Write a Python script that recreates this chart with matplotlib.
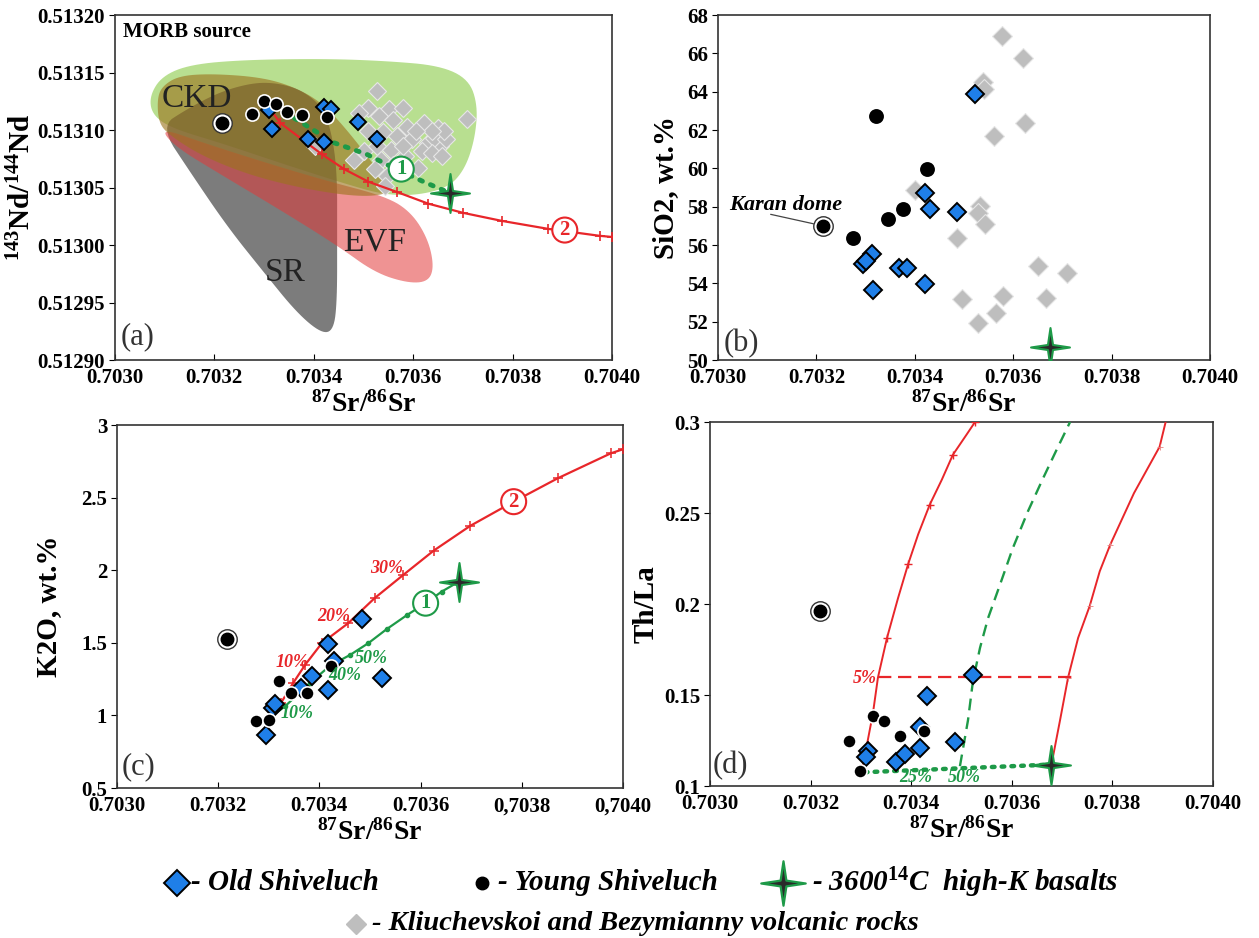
import matplotlib
matplotlib.use("Agg")
import matplotlib.pyplot as plt
from matplotlib.path import Path
from matplotlib.patches import Polygon
import numpy as np

plt.rcParams['font.family'] = ['Liberation Serif', 'DejaVu Serif']
plt.rcParams['font.weight'] = 'bold'
plt.rcParams['axes.labelweight'] = 'bold'
plt.rcParams['mathtext.fontset'] = 'custom'
plt.rcParams['mathtext.rm'] = 'Liberation Serif:bold'
plt.rcParams['mathtext.it'] = 'Liberation Serif:italic:bold'
plt.rcParams['mathtext.bf'] = 'Liberation Serif:bold'

BLUE = '#1F7FE8'
GRAYD = '#BEBEBE'
RED = '#E8262A'
GREEN = '#1E9A48'

# ---------------- panel (a): Sr - Nd ----------------
old_a_sr = [0.703310, 0.703315, 0.703388, 0.703420, 0.703420, 0.703434, 0.703488, 0.703527]
old_a_nd = [0.513117, 0.513101, 0.513092, 0.513090, 0.513120, 0.513118, 0.513107, 0.513092]
young_a_sr = [0.703276, 0.703299, 0.703325, 0.703346, 0.703377, 0.703426]
young_a_nd = [0.513114, 0.513125, 0.513123, 0.513116, 0.513113, 0.513111]
karan_a = (0.703216, 0.513106)
kb_a_sr = [0.703527, 0.703551, 0.703580, 0.703510, 0.703490, 0.703531, 0.703560, 0.703588,
           0.703621, 0.703650, 0.703708, 0.703510, 0.703539, 0.703568, 0.703597, 0.703630,
           0.703654, 0.703642, 0.703667, 0.703481, 0.703502, 0.703527, 0.703556, 0.703535,
           0.703560, 0.703584, 0.703609, 0.703547, 0.703523, 0.703543, 0.703403, 0.703580,
           0.703617, 0.703638, 0.703658, 0.703663, 0.703638, 0.703605]
kb_a_nd = [0.513134, 0.513118, 0.513119, 0.513119, 0.513115, 0.513112, 0.513109, 0.513103,
           0.513106, 0.513102, 0.513110, 0.513099, 0.513098, 0.513095, 0.513092, 0.513089,
           0.513086, 0.513093, 0.513092, 0.513074, 0.513082, 0.513086, 0.513083, 0.513074,
           0.513070, 0.513077, 0.513067, 0.513060, 0.513066, 0.513051, 0.513086, 0.513086,
           0.513082, 0.513080, 0.513077, 0.513099, 0.513099, 0.513099]
basalt_a = (0.703675, 0.513045)

mix2_a_sr = [0.703300, 0.703333, 0.703416, 0.703461, 0.703510, 0.703568, 0.703630, 0.703700,
             0.703778, 0.703872, 0.703975, 0.704000]
mix2_a_nd = [0.513125, 0.513106, 0.513079, 0.513066, 0.513055, 0.513046, 0.513036, 0.513028,
             0.513021, 0.513014, 0.513008, 0.513007]
mix1_a_sr = [0.703300, 0.703366, 0.703440, 0.703506, 0.703547, 0.703621, 0.703675]
mix1_a_nd = [0.513125, 0.513109, 0.513089, 0.513079, 0.513070, 0.513055, 0.513045]

field_green_sr = [0.703070, 0.703095, 0.703152, 0.703259, 0.703424, 0.703547, 0.703654, 0.703712,
                  0.703730, 0.703724, 0.703704, 0.703671, 0.703605, 0.703539, 0.703465, 0.703342,
                  0.703218, 0.703111, 0.703074]
field_green_nd = [0.513130, 0.513147, 0.513157, 0.513161, 0.513162, 0.513160, 0.513156, 0.513144,
                  0.513121, 0.513092, 0.513066, 0.513050, 0.513043, 0.513044, 0.513053, 0.513070,
                  0.513088, 0.513102, 0.513114]
field_sr_sr = [0.703091, 0.703152, 0.703226, 0.703300, 0.703366, 0.703416, 0.703440, 0.703447,
               0.703447, 0.703447, 0.703436, 0.703416, 0.703374, 0.703325, 0.703276, 0.703210,
               0.703144]
field_sr_nd = [0.513103, 0.513063, 0.513016, 0.512976, 0.512941, 0.512923, 0.512926, 0.512952,
               0.513010, 0.513063, 0.513098, 0.513121, 0.513135, 0.513141, 0.513141, 0.513133,
               0.513118]
field_evf_sr = [0.703091, 0.703177, 0.703300, 0.703424, 0.703547, 0.703597, 0.703630, 0.703642,
                0.703630, 0.703588, 0.703523, 0.703449, 0.703342, 0.703218, 0.703119]
field_evf_nd = [0.513102, 0.513089, 0.513072, 0.513056, 0.513042, 0.513028, 0.513005, 0.512981,
                0.512968, 0.512967, 0.512976, 0.512999, 0.513028, 0.513060, 0.513086]
field_ckd_sr = [0.703085, 0.703095, 0.703128, 0.703193, 0.703292, 0.703358, 0.703416, 0.703465,
                0.703514, 0.703551, 0.703547, 0.703490, 0.703391, 0.703276, 0.703177, 0.703111,
                0.703088]
field_ckd_nd = [0.513127, 0.513138, 0.513147, 0.513149, 0.513146, 0.513138, 0.513124, 0.513101,
                0.513074, 0.513051, 0.513044, 0.513042, 0.513048, 0.513060, 0.513077, 0.513095,
                0.513106]

# ---------------- panel (b): Sr - SiO2 ----------------
young_b_sr = [0.703322, 0.703425, 0.703376, 0.703345, 0.703275]
young_b_si = [62.75, 59.97, 57.88, 57.36, 56.38]
karan_b = (0.703213, 57.0)
old_b_sr = [0.703522, 0.703420, 0.703430, 0.703486, 0.703313, 0.703295, 0.703300, 0.703368,
            0.703385, 0.703420, 0.703315]
old_b_si = [63.88, 58.73, 57.88, 57.74, 55.51, 55.0, 55.15, 54.82, 54.82, 53.97, 53.65]
kb_b_sr = [0.703578, 0.703619, 0.703539, 0.703540, 0.703624, 0.703560, 0.703400, 0.703532,
           0.703528, 0.703542, 0.703486, 0.703651, 0.703709, 0.703496, 0.703580, 0.703666,
           0.703564, 0.703529]
kb_b_si = [66.92, 65.77, 64.52, 64.12, 62.38, 61.69, 58.87, 58.05, 57.65, 57.08, 56.38, 54.90,
           54.52, 53.18, 53.34, 53.22, 52.43, 51.91]
basalt_b = (0.703674, 50.70)

# ---------------- panel (c): Sr - K2O ----------------
young_c_sr = [0.703274, 0.703300, 0.703321, 0.703344, 0.703375, 0.703423]
young_c_k = [0.963, 0.970, 1.239, 1.154, 1.154, 1.337]
karan_c = (0.703217, 1.528)
old_c_sr = [0.703294, 0.703308, 0.703312, 0.703364, 0.703385, 0.703418, 0.703418, 0.703429,
            0.703484, 0.703523]
old_c_k = [0.862, 1.050, 1.080, 1.188, 1.268, 1.493, 1.177, 1.372, 1.663, 1.257]
basalt_c = (0.703676, 1.922)
mix2_c_sr = [0.703296, 0.703324, 0.703348, 0.703372, 0.703405, 0.703457, 0.703509, 0.703566,
             0.703626, 0.703698, 0.703784, 0.703871, 0.703976, 0.704000]
mix2_c_k = [0.970, 1.085, 1.222, 1.349, 1.498, 1.635, 1.807, 1.968, 2.135, 2.305, 2.472, 2.633,
            2.805, 2.833]
mix1_c_sr = [0.703296, 0.703332, 0.703381, 0.703421, 0.703461, 0.703497, 0.703533, 0.703574,
             0.703610, 0.703642, 0.703676]
mix1_c_k = [0.970, 1.062, 1.222, 1.342, 1.417, 1.498, 1.594, 1.693, 1.773, 1.853, 1.922]

# ---------------- panel (d): Sr - Th/La ----------------
young_d_sr = [0.703277, 0.703324, 0.703347, 0.703377, 0.703426, 0.703298]
young_d_th = [0.1249, 0.1387, 0.1358, 0.1273, 0.1304, 0.1082]
karan_d = (0.703218, 0.1964)
old_d_sr = [0.703314, 0.703311, 0.703370, 0.703388, 0.703418, 0.703418, 0.703431, 0.703487,
            0.703523]
old_d_th = [0.1191, 0.1158, 0.1131, 0.1176, 0.1209, 0.1327, 0.1497, 0.1242, 0.1612]
basalt_d = (0.703679, 0.1118)
redL_d_sr = [0.703304, 0.703324, 0.703334, 0.703352, 0.703374, 0.703394, 0.703414, 0.703437,
             0.703461, 0.703483, 0.703511, 0.703527]
redL_d_th = [0.1109, 0.1399, 0.1596, 0.1814, 0.2033, 0.2219, 0.2383, 0.2546, 0.2683, 0.2820,
             0.2934, 0.3000]
redR_d_sr = [0.703679, 0.703696, 0.703712, 0.703732, 0.703755, 0.703775, 0.703796, 0.703843,
             0.703894, 0.703906]
redR_d_th = [0.1118, 0.1361, 0.1596, 0.1814, 0.1989, 0.2180, 0.2327, 0.2609, 0.2864, 0.3000]
greenM_d_sr = [0.703497, 0.703513, 0.703523, 0.703537, 0.703553, 0.703577, 0.703602, 0.703632,
               0.703662, 0.703690, 0.703716]
greenM_d_th = [0.1109, 0.1361, 0.1579, 0.1760, 0.1923, 0.2109, 0.2306, 0.2508, 0.2689, 0.2852,
               0.3000]
red5_d_sr = [0.703334, 0.703720]
red5_d_th = [0.160, 0.160]
greenB_d_sr = [0.703308, 0.703679]
greenB_d_th = [0.1076, 0.1118]

sr_ticks = [0.7030, 0.7032, 0.7034, 0.7036, 0.7038, 0.7040]
sr_labels = ['0.7030', '0.7032', '0.7034', '0.7036', '0.7038', '0.7040']
sr_labels_c = ['0.7030', '0.7032', '0.7034', '0.7036', '0,7038', '0,7040']
nd_ticks = [0.51290, 0.51295, 0.51300, 0.51305, 0.51310, 0.51315, 0.51320]
si_ticks = [50, 52, 54, 56, 58, 60, 62, 64, 66, 68]
k_ticks = [0.5, 1, 1.5, 2, 2.5, 3]
k_labels = ['0.5', '1', '1.5', '2', '2.5', '3']
th_ticks = [0.1, 0.15, 0.2, 0.25, 0.3]
th_labels = ['0.1', '0.15', '0.2', '0.25', '0.3']

SRLABEL = '$^{87}$Sr/$^{86}$Sr'

vs = [(0, 1), (0.13, 0.13), (1, 0), (0.13, -0.13), (0, -1), (-0.13, -0.13), (-1, 0), (-0.13, 0.13), (0, 1)]
STAR = Path(vs, [Path.MOVETO] + [Path.LINETO] * 7 + [Path.CLOSEPOLY])


def chaikin(xs, ys, n=3):
    # rounds the corners of a field outline
    pts = np.column_stack([xs, ys])
    for _ in range(n):
        nxt = np.roll(pts, -1, axis=0)
        q = 0.75 * pts + 0.25 * nxt
        r = 0.25 * pts + 0.75 * nxt
        pts = np.empty((2 * len(q), 2))
        pts[0::2] = q
        pts[1::2] = r
    return pts


def style(ax, ylab, labpad, xlabels=sr_labels):
    ax.set_xlim(0.7030, 0.7040)
    ax.set_xticks(sr_ticks)
    ax.set_xticklabels(xlabels)
    ax.tick_params(axis='x', direction='in', length=4, pad=6, labelsize=15)
    ax.tick_params(axis='y', direction='out', length=4, pad=3, labelsize=15)
    for lab in ax.get_xticklabels() + ax.get_yticklabels():
        lab.set_fontweight('bold')
    ax.set_xlabel(SRLABEL, fontsize=20, labelpad=2)
    ax.set_ylabel(ylab, fontsize=21, labelpad=labpad)
    for s in ax.spines.values():
        s.set_linewidth(1.2)
        s.set_color('#333333')


def symbols(ax, young, old, karan, basalt, gray=None, ms_d=9, ring_young=True):
    if gray is not None:
        ax.plot(gray[0], gray[1], 'D', ms=ms_d + 1, mfc=GRAYD, mec='#E6E6E6', mew=0.8, ls='none', zorder=2)
    ax.plot(old[0], old[1], 'D', ms=ms_d, mfc=BLUE, mec='black', mew=1.4, ls='none', zorder=4)
    ax.plot(young[0], young[1], 'o', ms=9.5, mfc='black', mec='white' if ring_young else 'black',
            mew=1.2, ls='none', zorder=4)
    ax.plot(karan[0], karan[1], 'o', ms=14, mfc='white', mec='#333333', mew=1.0, zorder=4)
    ax.plot(karan[0], karan[1], 'o', ms=9, mfc='black', mec='black', zorder=5)
    ax.plot(basalt[0], basalt[1], marker=STAR, ms=28, mfc='#2A2A2A', mec=GREEN, mew=1.5, zorder=6)


def circ_label(ax, x, y, t, c):
    ax.text(x, y, t, color=c, fontsize=15, ha='center', va='center', zorder=7,
            bbox=dict(boxstyle='circle,pad=0.12', fc='white', ec=c, lw=1.5))


fig = plt.figure(figsize=(12.59, 9.38), dpi=100)

# ---- (a)
ax = fig.add_axes([0.0913, 0.6162, 0.3948, 0.3678])
for fx, fy, fc, al in [(field_green_sr, field_green_nd, '#92CF55', 0.65),
                       (field_sr_sr, field_sr_nd, '#444444', 0.70),
                       (field_evf_sr, field_evf_nd, '#E23A3A', 0.55),
                       (field_ckd_sr, field_ckd_nd, '#9C741E', 0.62)]:
    ax.add_patch(Polygon(chaikin(fx, fy), closed=True, fc=fc, ec='none', alpha=al, zorder=1))
ax.plot(mix2_a_sr, mix2_a_nd, '-', color=RED, lw=1.6, marker='+', ms=7, mew=1.2, zorder=3)
ax.plot(mix1_a_sr, mix1_a_nd, color=GREEN, lw=3.5, ls=(0, (0.6, 1.8)), dash_capstyle='round', zorder=3)
symbols(ax, (young_a_sr, young_a_nd), (old_a_sr, old_a_nd), karan_a, basalt_a,
        gray=(kb_a_sr, kb_a_nd), ms_d=8.5)
circ_label(ax, 0.703576, 0.513066, '1', GREEN)
circ_label(ax, 0.703905, 0.513013, '2', RED)
ax.text(0.703016, 0.513185, 'MORB source', fontsize=15, va='center')
ax.text(0.703165, 0.513127, 'CKD', fontsize=24, fontweight='normal', ha='center', va='center', color='#222222')
ax.text(0.703523, 0.513002, 'EVF', fontsize=24, fontweight='normal', ha='center', va='center', color='#222222')
ax.text(0.703342, 0.512976, 'SR', fontsize=24, fontweight='normal', ha='center', va='center', color='#222222')
ax.text(0.703045, 0.512920, '(a)', fontsize=22, fontweight='normal', ha='center', va='center', color='#333333')
ax.set_ylim(0.51290, 0.51320)
ax.set_yticks(nd_ticks)
ax.set_yticklabels(['%.5f' % v for v in nd_ticks])
style(ax, '$^{143}$Nd/$^{144}$Nd', 1)

# ---- (b)
ax = fig.add_axes([0.5703, 0.6162, 0.3908, 0.3678])
symbols(ax, (young_b_sr, young_b_si), (old_b_sr, old_b_si), karan_b, basalt_b,
        gray=(kb_b_sr, kb_b_si), ms_d=9.5, ring_young=False)
ax.text(0.703022, 58.1, 'Karan dome', fontsize=16, style='italic', ha='left', va='center')
ax.annotate('', xy=karan_b, xytext=(0.703107, 57.6),
            arrowprops=dict(arrowstyle='-', color='#444444', lw=0.9, shrinkA=0, shrinkB=7))
ax.text(0.703047, 50.87, '(b)', fontsize=22, fontweight='normal', ha='center', va='center', color='#333333')
ax.set_ylim(50, 68)
ax.set_yticks(si_ticks)
style(ax, 'SiO2, wt.%', 6)

# ---- (c)
ax = fig.add_axes([0.0929, 0.1599, 0.4019, 0.3870])
ax.plot(mix2_c_sr, mix2_c_k, '-', color=RED, lw=1.6, marker='+', ms=7, mew=1.1, zorder=3)
ax.plot(mix1_c_sr, mix1_c_k, '-', color=GREEN, lw=1.6, marker='o', ms=3, zorder=3)
symbols(ax, (young_c_sr, young_c_k), (old_c_sr, old_c_k), karan_c, basalt_c, ms_d=9.5)
circ_label(ax, 0.703610, 1.773, '1', GREEN)
circ_label(ax, 0.703784, 2.472, '2', RED)
for x, y, t, c in [(0.703533, 2.014, '30%', RED), (0.703429, 1.681, '20%', RED),
                   (0.703347, 1.367, '10%', RED), (0.703503, 1.394, '50%', GREEN),
                   (0.703451, 1.273, '40%', GREEN), (0.703356, 1.016, '10%', GREEN)]:
    ax.text(x, y, t, color=c, fontsize=13, style='italic', ha='center', va='center', zorder=7)
ax.text(0.703043, 0.649, '(c)', fontsize=22, fontweight='normal', ha='center', va='center', color='#333333')
ax.set_ylim(0.5, 3)
ax.set_yticks(k_ticks)
ax.set_yticklabels(k_labels)
style(ax, 'K2O, wt.%', 14, sr_labels_c)

# ---- (d)
ax = fig.add_axes([0.5639, 0.1620, 0.3995, 0.3881])
ax.plot(redL_d_sr, redL_d_th, '-', color=RED, lw=1.4, zorder=3)
ax.plot(redL_d_sr[1::2], redL_d_th[1::2], '+', color=RED, ms=6, mew=1.0, zorder=3)
ax.plot(redR_d_sr, redR_d_th, '-', color=RED, lw=1.4, zorder=3)
ax.plot(redR_d_sr[2::2], redR_d_th[2::2], '+', color='#E88080', ms=5, mew=0.6, zorder=3)
ax.plot(greenM_d_sr, greenM_d_th, '--', color=GREEN, lw=1.7, dashes=(5, 3), zorder=3)
ax.plot(red5_d_sr, red5_d_th, '--', color=RED, lw=1.6, dashes=(6, 3), zorder=3)
ax.plot(greenB_d_sr, greenB_d_th, color=GREEN, lw=3.2, ls=(0, (0.6, 1.6)), dash_capstyle='round', zorder=3)
symbols(ax, (young_d_sr, young_d_th), (old_d_sr, old_d_th), karan_d, basalt_d, ms_d=9.5)
ax.text(0.703308, 0.159, '5%', color=RED, fontsize=13, style='italic', ha='center', va='center')
ax.text(0.703410, 0.1045, '25%', color=GREEN, fontsize=13, style='italic', ha='center', va='center')
ax.text(0.703505, 0.1045, '50%', color=GREEN, fontsize=13, style='italic', ha='center', va='center')
ax.text(0.703041, 0.111, '(d)', fontsize=22, fontweight='normal', ha='center', va='center', color='#333333')
ax.set_ylim(0.1, 0.3)
ax.set_yticks(th_ticks)
ax.set_yticklabels(th_labels)
style(ax, 'Th/La', 3)

# ---- legend (figure pixel coordinates)
lax = fig.add_axes([0, 0, 1, 1], zorder=-5)
lax.set_xlim(0, 1259)
lax.set_ylim(938, 0)
lax.axis('off')
lax.plot(177, 883, 'D', ms=13, mfc=BLUE, mec='black', mew=1.4)
lax.text(191, 883, '- Old Shiveluch', fontsize=21, style='italic', va='center')
lax.plot(482, 883, 'o', ms=9, mfc='black', mec='black')
lax.text(498, 883, '- Young Shiveluch', fontsize=21, style='italic', va='center')
lax.plot(783, 883, marker=STAR, ms=32, mfc='#2A2A2A', mec=GREEN, mew=1.6)
lax.text(812, 883, '- 3600$^{\\mathit{14}}$C  high-K basalts', fontsize=21, style='italic', va='center')
lax.plot(356, 924, 'D', ms=10, mfc=GRAYD, mec=GRAYD)
lax.text(372, 924, '- Kliuchevskoi and Bezymianny volcanic rocks', fontsize=20.5, style='italic', va='center')

fig.savefig('out.png', dpi=100)
